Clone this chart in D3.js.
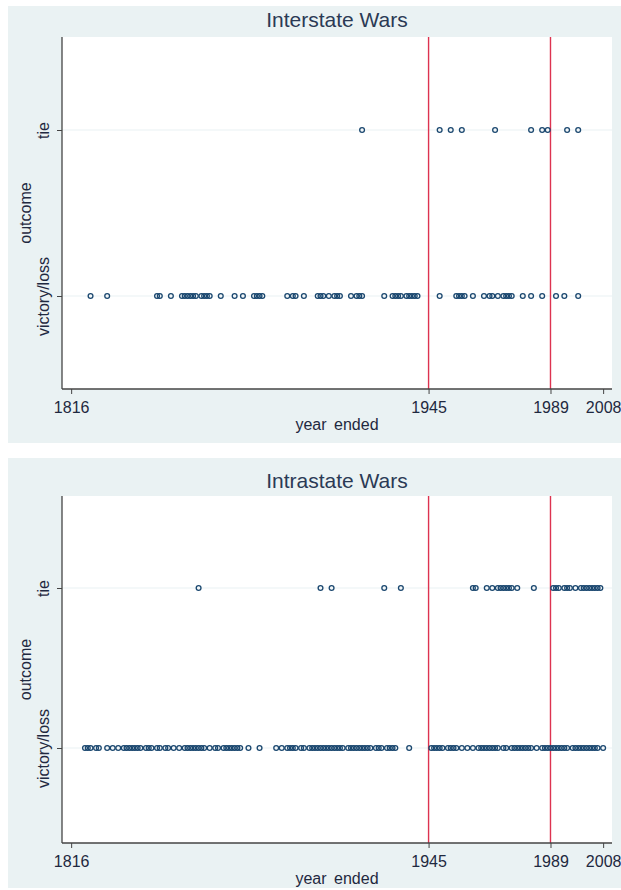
<!DOCTYPE html>
<html>
<head>
<meta charset="utf-8">
<script src="https://cdn.jsdelivr.net/npm/d3@7"></script>
<style>
  body { margin: 0; background: #fff; }
  text { font-family: "Liberation Sans", Arial, sans-serif; }
</style>
</head>
<body>
<svg id="chart" width="621" height="890"></svg>
<script>
// outcome categories and axis ticks
var outcomes = ["victory/loss", "tie"]
var yearTicks = [1816, 1945, 1989, 2008]
var breakYears = [1945, 1989]

// interstate wars, year ended
var interVictory = [1823, 1829, 1847, 1848, 1852, 1856, 1857, 1858, 1859, 1860, 1861, 1863, 1864, 1865, 1866,
  1870, 1875, 1878, 1882, 1883, 1884, 1885, 1894, 1896, 1897, 1900, 1905, 1906, 1907, 1909, 1911,
  1912, 1913, 1917, 1919, 1920, 1921, 1929, 1932, 1933, 1934, 1935, 1937, 1938, 1939, 1940, 1941,
  1949, 1955, 1956, 1957, 1958, 1961, 1965, 1967, 1968, 1970, 1972, 1973, 1974, 1975, 1979, 1982,
  1986, 1991, 1994, 1999]
var interTie = [1921, 1949, 1953, 1957, 1969, 1982, 1986, 1988, 1995, 1999]

// intrastate wars, year ended
var intraVictory = [1821, 1822, 1823, 1825, 1826, 1829, 1831, 1833, 1835, 1836, 1837, 1838, 1839, 1840,
  1841, 1843, 1844, 1845, 1847, 1848, 1850, 1851, 1853, 1855, 1857, 1858, 1859, 1860, 1861, 1862,
  1863, 1864, 1866, 1868, 1869, 1871, 1872, 1873, 1874, 1875, 1876, 1877, 1880, 1884,
  1890, 1892, 1894, 1895, 1896, 1897, 1899, 1900, 1902, 1903, 1904, 1905, 1906, 1907, 1908, 1909,
  1910, 1911, 1912, 1913, 1914, 1916, 1917, 1918, 1919, 1920, 1921, 1922, 1923, 1924, 1926, 1927,
  1928, 1930, 1931, 1932, 1933, 1938, 1946, 1947, 1948, 1949, 1950, 1952, 1953, 1954, 1955, 1957,
  1959, 1961, 1963, 1964, 1965, 1966, 1967, 1968, 1969, 1970, 1972, 1973, 1975, 1976, 1977, 1978,
  1979, 1980, 1981, 1982, 1984, 1986, 1987, 1988, 1989, 1990, 1991, 1992, 1993, 1994, 1995, 1997,
  1998, 1999, 2000, 2001, 2002, 2003, 2004, 2005, 2006, 2008]
var intraTie = [1862, 1906, 1910, 1929, 1935, 1961, 1962, 1966, 1968, 1970, 1971, 1972, 1973, 1974,
  1975, 1977, 1983, 1990, 1991, 1992, 1994, 1995, 1996, 1998, 2000, 2001, 2002, 2003, 2004, 2005,
  2006, 2007]

var svg = d3.select("#chart")
var bg = "#eaf2f3", navy = "#1a476f", red = "#dd3350", ink = "#1f2940"

var x = d3.scaleLinear().domain([1812.7, 2011.2]).range([62, 612])

function drawPanel(title, victory, tie, box) {
  var g = svg.append("g")

  g.append("rect")
    .attr("x", 8).attr("y", box.y0)
    .attr("width", 613).attr("height", box.y1 - box.y0)
    .attr("fill", bg)

  g.append("rect")
    .attr("x", 62).attr("y", box.top)
    .attr("width", 550).attr("height", box.bottom - box.top)
    .attr("fill", "#fff")

  var y = d3.scalePoint().domain(outcomes).range([box.vict, box.tie])

  // grid lines
  g.selectAll(".grid")
    .data(outcomes)
    .enter()
    .append("line")
    .attr("x1", 62).attr("x2", 612)
    .attr("y1", function(d){ return y(d) })
    .attr("y2", function(d){ return y(d) })
    .attr("stroke", bg)
    .attr("stroke-width", 1.2)

  // red reference lines
  g.selectAll(".ref")
    .data(breakYears)
    .enter()
    .append("line")
    .attr("x1", function(d){ return x(d) })
    .attr("x2", function(d){ return x(d) })
    .attr("y1", box.top).attr("y2", box.bottom)
    .attr("stroke", red)
    .attr("stroke-width", 1.4)

  var pts = victory.map(function(d){ return {year: d, out: "victory/loss"} })
    .concat(tie.map(function(d){ return {year: d, out: "tie"} }))

  g.selectAll(".pt")
    .data(pts)
    .enter()
    .append("circle")
    .attr("cx", function(d){ return x(d.year) })
    .attr("cy", function(d){ return y(d.out) })
    .attr("r", 2.4)
    .attr("fill", "none")
    .attr("stroke", navy)
    .attr("stroke-width", 1.3)

  // axes
  var xAxis = g.append("g")
    .attr("transform", "translate(0," + box.bottom + ")")
    .call(d3.axisBottom(x).tickValues(yearTicks).tickSize(5).tickSizeOuter(0).tickFormat(d3.format("d")))
  xAxis.select(".domain").attr("d", "M62,0H612").attr("stroke", "#444").attr("stroke-width", 1.3)
  xAxis.selectAll(".tick line").attr("stroke", "#444")
  xAxis.selectAll(".tick text")
    .attr("y", 13)
    .attr("fill", ink)
    .style("font-size", "16px")
    .style("font-family", "Liberation Sans, Arial, sans-serif")

  var yAxis = g.append("g")
    .attr("transform", "translate(62,0)")
    .call(d3.axisLeft(y).tickSize(5).tickSizeOuter(0))
  yAxis.select(".domain").attr("d", "M0," + box.top + "V" + box.bottom).attr("stroke", "#444").attr("stroke-width", 1.3)
  yAxis.selectAll(".tick line").attr("stroke", "#444")
  yAxis.selectAll(".tick text")
    .attr("x", 0).attr("y", 0).attr("dy", 0)
    .attr("transform", "translate(-13,0) rotate(-90)")
    .attr("text-anchor", "middle")
    .attr("fill", ink)
    .style("font-size", "16px")
    .style("font-family", "Liberation Sans, Arial, sans-serif")

  g.append("text")
    .attr("x", 337).attr("y", box.top - box.tgap)
    .attr("text-anchor", "middle")
    .attr("fill", "#2b3a55")
    .style("font-size", "21px")
    .text(title)

  g.append("text")
    .attr("x", 337).attr("y", box.bottom + 41)
    .attr("text-anchor", "middle")
    .attr("fill", ink)
    .style("font-size", "16px")
    .style("word-spacing", "3px")
    .text("year ended")

  g.append("text")
    .attr("transform", "translate(31," + ((box.top + box.bottom) / 2) + ") rotate(-90)")
    .attr("text-anchor", "middle")
    .attr("fill", ink)
    .style("font-size", "16px")
    .text("outcome")
}

drawPanel("Interstate Wars", interVictory, interTie,
  {y0: 6, y1: 443, top: 37, bottom: 389, tie: 130, vict: 296, tgap: 10})
drawPanel("Intrastate Wars", intraVictory, intraTie,
  {y0: 458, y1: 888, top: 496, bottom: 843, tie: 588, vict: 748, tgap: 8})
</script>
</body>
</html>
